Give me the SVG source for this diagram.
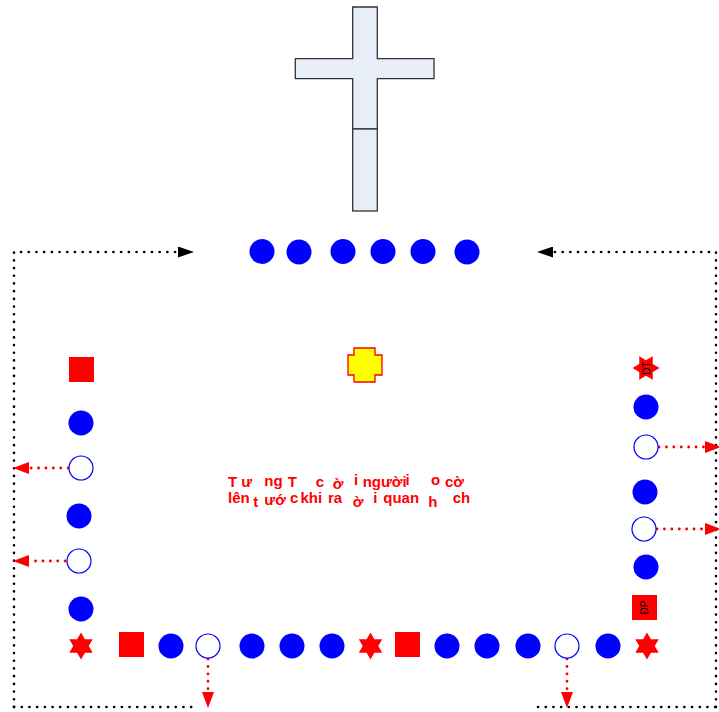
<svg xmlns="http://www.w3.org/2000/svg" width="719" height="712" viewBox="0 0 719 712">
<style>
.dot{stroke:#000;stroke-width:2.6;stroke-linecap:round;stroke-dasharray:0.1 7.6;fill:none}
.rdot{stroke:#f00;stroke-width:2.8;stroke-linecap:round;stroke-dasharray:0.1 7.3;fill:none}
.fc{fill:#00f}
.oc{fill:#fff;stroke:#00f;stroke-width:1.2}
.red{fill:#f00}
.cross{fill:#E8EEF7;stroke:#333;stroke-width:1.3}
.t{font-family:"Liberation Sans",Arial,sans-serif;font-weight:bold;font-size:15px;fill:#f00}
.lbl{font-family:"Liberation Sans",Arial,sans-serif;font-size:10px;fill:#000}
</style>
<defs>
<marker id="ab" markerWidth="16" markerHeight="11" refX="15" refY="5.5" orient="auto" markerUnits="userSpaceOnUse"><path d="M0,0 L16,5.5 L0,11 Z" fill="#000"/></marker>
<marker id="ar" markerWidth="16" markerHeight="12" refX="15" refY="6" orient="auto" markerUnits="userSpaceOnUse"><path d="M0,0 L16,6 L0,12 Z" fill="#f00"/></marker>
<polygon id="star" points="0,-13.5 3.9,-6.75 11.7,-6.75 7.8,0 11.7,6.75 3.9,6.75 0,13.5 -3.9,6.75 -11.7,6.75 -7.8,0 -11.7,-6.75 -3.9,-6.75"/>
</defs>

<g id="cross">
<polygon class="cross" points="352.7,7 377.3,7 377.3,58.7 434,58.7 434,78.7 377.3,78.7 377.3,129 352.7,129 352.7,78.7 295.3,78.7 295.3,58.7 352.7,58.7"/>
<rect class="cross" x="352.7" y="129" width="24.6" height="82"/>
</g>

<g id="connectors">
<polyline class="dot" points="14,707 14,252 178,252"/>
<path d="M178,252 L193,252" fill="none" stroke="none" marker-end="url(#ab)"/>
<polyline class="dot" points="716,707 716,252 553,252"/>
<path d="M553,252 L538,252" fill="none" stroke="none" marker-end="url(#ab)"/>
<line class="dot" x1="14" y1="707" x2="197" y2="707"/>
<line class="dot" x1="538" y1="707" x2="716" y2="707"/>
<line class="rdot" x1="83" y1="468" x2="29" y2="468"/>
<path d="M29,468 L14,468" fill="none" stroke="none" marker-end="url(#ar)"/>
<line class="rdot" x1="80" y1="561" x2="29" y2="561"/>
<path d="M29,561 L14,561" fill="none" stroke="none" marker-end="url(#ar)"/>
<line class="rdot" x1="659" y1="447" x2="705" y2="447"/>
<path d="M705,447 L720,447" fill="none" stroke="none" marker-end="url(#ar)"/>
<line class="rdot" x1="657" y1="529" x2="705" y2="529"/>
<path d="M705,529 L720,529" fill="none" stroke="none" marker-end="url(#ar)"/>
<line class="rdot" x1="208" y1="659" x2="208" y2="692"/>
<path d="M208,692 L208,707" fill="none" stroke="none" marker-end="url(#ar)"/>
<line class="rdot" x1="567" y1="659" x2="567" y2="692"/>
<path d="M567,692 L567,707" fill="none" stroke="none" marker-end="url(#ar)"/>
</g>

<g id="top-row">
<circle class="fc" cx="262" cy="251.5" r="12.5"/>
<circle class="fc" cx="299" cy="252" r="12.5"/>
<circle class="fc" cx="343" cy="251.5" r="12.5"/>
<circle class="fc" cx="383" cy="251.5" r="12.5"/>
<circle class="fc" cx="423" cy="251.5" r="12.5"/>
<circle class="fc" cx="467" cy="252" r="12.5"/>
</g>

<g id="center-piece">
<polygon points="354,348 375,348 375,355 382,355 382,375 375,375 375,382 354,382 354,375 348,375 348,355 354,355" fill="#ff0" stroke="#f00" stroke-width="1.3"/>
</g>

<g id="left-column">
<rect class="red" x="69" y="357" width="25" height="25"/>
<circle class="fc" cx="81" cy="423" r="12.5"/>
<circle class="oc" cx="81" cy="468" r="12"/>
<circle class="fc" cx="79" cy="516" r="12.5"/>
<circle class="oc" cx="79" cy="561" r="12"/>
<circle class="fc" cx="81" cy="609" r="12.5"/>
</g>

<g id="bottom-row">
<use href="#star" class="red" x="81" y="646"/>
<rect class="red" x="119" y="632" width="25" height="25"/>
<circle class="fc" cx="171" cy="646" r="12.5"/>
<circle class="oc" cx="208" cy="646" r="12"/>
<circle class="fc" cx="252" cy="646" r="12.5"/>
<circle class="fc" cx="292" cy="646" r="12.5"/>
<circle class="fc" cx="332" cy="646" r="12.5"/>
<use href="#star" class="red" x="370.5" y="646"/>
<rect class="red" x="395" y="632" width="25" height="25"/>
<circle class="fc" cx="447" cy="646" r="12.5"/>
<circle class="fc" cx="487" cy="646" r="12.5"/>
<circle class="fc" cx="528" cy="646" r="12.5"/>
<circle class="oc" cx="567" cy="646" r="12"/>
<circle class="fc" cx="608" cy="646" r="12.5"/>
<use href="#star" class="red" x="647" y="646"/>
</g>

<g id="right-column">
<g id="dt" transform="translate(646,368)">
<use href="#star" class="red" transform="rotate(90)"/>
<text class="lbl" transform="rotate(-90)" x="0" y="3.5" text-anchor="middle">DT</text>
</g>
<circle class="fc" cx="646" cy="407" r="12.5"/>
<circle class="oc" cx="646" cy="447" r="12"/>
<circle class="fc" cx="645" cy="492" r="12.5"/>
<circle class="oc" cx="644" cy="529" r="12"/>
<circle class="fc" cx="646" cy="567" r="12.5"/>
<g id="dp" transform="translate(644.5,607.5)">
<rect class="red" x="-12.5" y="-12.5" width="25" height="25"/>
<text class="lbl" transform="rotate(-90)" x="0" y="3.5" text-anchor="middle">ĐP</text>
</g>
</g>

<g id="center-text">
<text class="t" x="228" y="486.7">T ư</text>
<text class="t" x="264.3" y="486">ng</text>
<text class="t" x="287.7" y="486.7">T</text>
<text class="t" x="315.7" y="486.7">c</text>
<text class="t" x="332.7" y="488.5">ờ</text>
<text class="t" x="354" y="485">i</text>
<text class="t" x="362.7" y="486.7">người</text>
<text class="t" x="405.5" y="484.5">i</text>
<text class="t" x="431" y="484.5">o</text>
<text class="t" x="445" y="486.7">cờ</text>
<text class="t" x="228" y="502.5">lên</text>
<text class="t" x="253.3" y="506.5">t</text>
<text class="t" x="264.3" y="504.5">ướ</text>
<text class="t" x="290" y="502.5">c</text>
<text class="t" x="300.5" y="502.5">khi</text>
<text class="t" x="328" y="502.5">ra</text>
<text class="t" x="352.7" y="507">ờ</text>
<text class="t" x="373.3" y="502.5">i</text>
<text class="t" x="383.3" y="502.5">quan</text>
<text class="t" x="428.3" y="507">h</text>
<text class="t" x="452.7" y="502.5">ch</text>
</g>
</svg>
